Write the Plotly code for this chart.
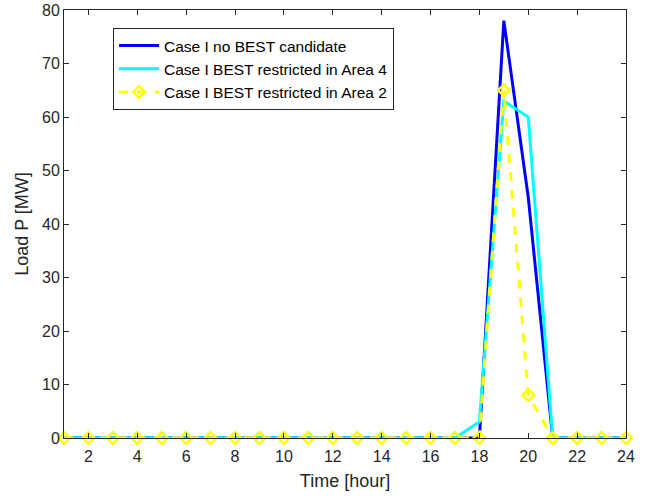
import plotly.graph_objects as go

hours = list(range(1, 25))
no_best = [0]*17 + [0, 78, 45, 0, 0, 0, 0]
area4 = [0]*17 + [3, 63, 60, 0, 0, 0, 0]
area2 = [0]*17 + [0, 65, 8, 0, 0, 0, 0]
names = ["Case I no BEST candidate", "Case I BEST restricted in Area 4", "Case I BEST restricted in Area 2"]

fig = go.Figure()
fig.add_trace(go.Scatter(x=hours, y=no_best, mode="lines", name=names[0],
                         line=dict(color="#0000ff", width=3), cliponaxis=False))
fig.add_trace(go.Scatter(x=hours, y=area4, mode="lines", name=names[1],
                         line=dict(color="#00ffff", width=3), cliponaxis=False))
fig.add_trace(go.Scatter(x=hours, y=area2, mode="lines+markers", name=names[2],
                         line=dict(color="#ffff00", width=3, dash="dash"),
                         marker=dict(symbol="diamond-open", size=9, color="#ffff00",
                                     line=dict(color="#ffff00", width=2.5)),
                         cliponaxis=False))

axis_common = dict(showline=True, linecolor="#262626", linewidth=1, mirror="ticks",
                   ticks="inside", ticklen=5, tickcolor="#262626", showgrid=False,
                   zeroline=False, automargin=False,
                   tickfont=dict(size=16, color="#262626"),
                   title_font=dict(size=18, color="#262626"))

fig.update_layout(
    width=654, height=500,
    margin=dict(l=64, r=28, t=10, b=62),
    plot_bgcolor="white", paper_bgcolor="white",
    font=dict(family="Liberation Sans, Arial, sans-serif", color="#262626"),
    xaxis=dict(range=[1, 24], tick0=0, dtick=2, ticklabelstandoff=4,
               title=dict(text="Time [hour]", standoff=10), **axis_common),
    yaxis=dict(range=[0, 80], tick0=0, dtick=10,
               title=dict(text="Load P [MW]", standoff=8), **axis_common),
    legend=dict(x=(113-64)/562, y=(438-28)/428, xanchor="left", yanchor="top",
                bgcolor="white", bordercolor="#262626", borderwidth=1,
                itemwidth=40,
                font=dict(size=15.5, color="black"), tracegroupgap=0),
    showlegend=True,
)

fig.write_html("out.html", post_script="document.body.style.margin='0';",
               config={"displayModeBar": False})
